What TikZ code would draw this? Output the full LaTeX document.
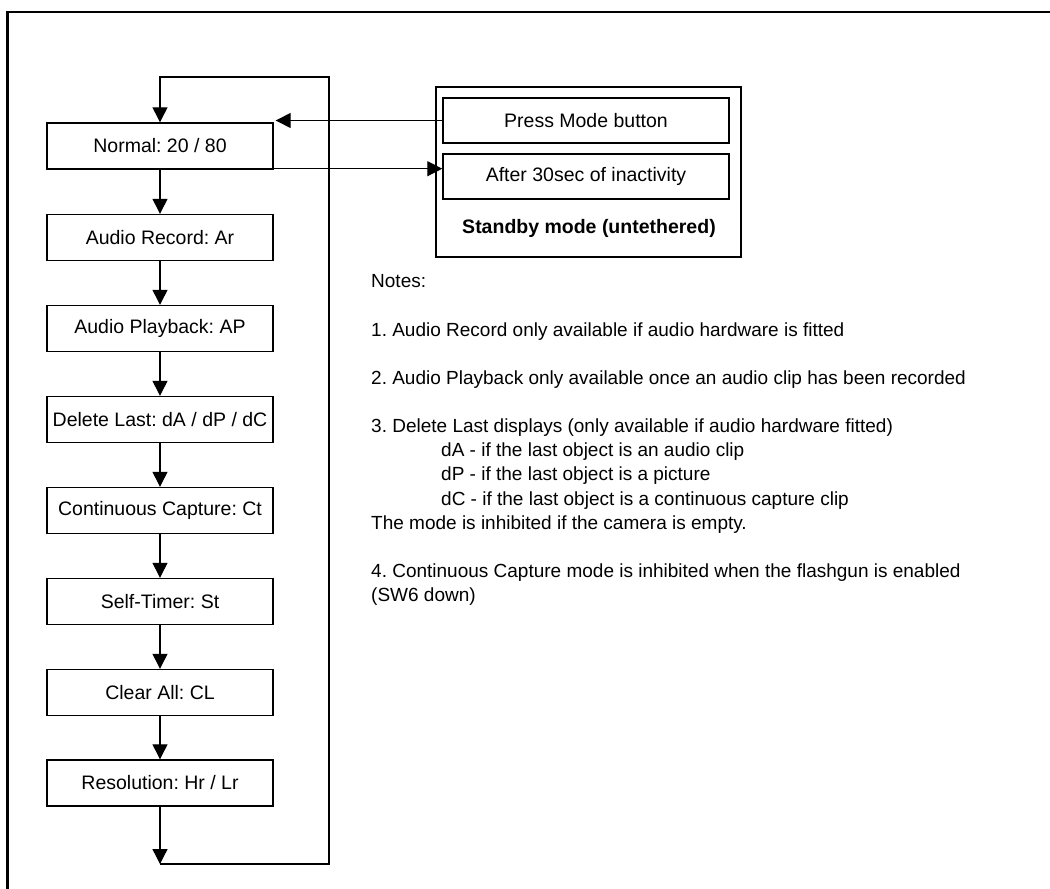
\documentclass[tikz,border=0pt]{standalone}
\usepackage{fontspec}
\setmainfont{Liberation Sans}
\usetikzlibrary{arrows.meta,calc}
\frenchspacing
\tikzset{
  fnt/.style={font=\fontsize{19.5}{24.15}\selectfont},
  nfnt/.style={font=\fontsize{19}{24.15}\selectfont},
  mbox/.style={draw, line width=1.4pt, minimum width=226pt, minimum height=46pt, inner sep=2pt, fnt},
  sbox/.style={draw, line width=1.4pt, minimum width=286pt, minimum height=45pt, inner sep=2pt, fnt},
  arr/.style={line width=1.3pt, -{Triangle[length=15pt,width=15pt]}},
}
\begin{document}
\begin{tikzpicture}[x=1pt,y=-1pt]
\useasboundingbox (0,0) rectangle (1050,889);
% outer frame
\draw[line width=2.3pt] (1050,12) -- (7.5,12) -- (7.5,889);
% mode chain
\node[mbox] (normal) at (160,146) {Normal: 20 / 80};
\node[mbox] (arec) at (160,237.5) {Audio Record: Ar};
\node[mbox] (aplay) at (160,328.5) {Audio Playback: AP};
\node[mbox] (dlast) at (160,419.5) {Delete Last: dA / dP / dC};
\node[mbox] (ccap) at (160,510.5) {Continuous Capture: Ct};
\node[mbox] (stimer) at (160,601.5) {Self-Timer: St};
\node[mbox] (clear) at (160,692.5) {Clear All: CL};
\node[mbox] (res) at (160,783) {Resolution: Hr / Lr};
\draw[arr] (normal) -- (arec);
\draw[arr] (arec) -- (aplay);
\draw[arr] (aplay) -- (dlast);
\draw[arr] (dlast) -- (ccap);
\draw[arr] (ccap) -- (stimer);
\draw[arr] (stimer) -- (clear);
\draw[arr] (clear) -- (res);
% loop back
\coordinate (loopb) at (160,864);
\coordinate (loopt) at (329,77);
\draw[arr] (res.south) -- (loopb);
\draw[arr] (loopb) -| (loopt) -| (normal.north);
% standby
\node[draw, line width=1.4pt, minimum width=305pt, minimum height=170pt, inner sep=0pt] (standby) at (588.5,172) {};
\node[sbox] (press) at (586,120.5) {Press Mode button};
\node[sbox] (after) at (586,176.5) {After 30sec of inactivity};
\node[font=\fontsize{19.5}{24.15}\selectfont\bfseries] (slabel) at (589,228) {Standby mode (untethered)};
\draw[arr] (press.west) -- ($(press.west -| normal.east)+(2,0)$);
\draw[arr] ([yshift=1pt]normal.south east) -- ([yshift=1pt]normal.south east -| after.west);
% notes
\node[nfnt, anchor=north west, align=left, inner sep=0pt] (notes) at (371,274.5) {Notes:\\
\mbox{}\\
1. Audio Record only available if audio hardware is fitted\\
\mbox{}\\
2. Audio Playback only available once an audio clip has been recorded\\
\mbox{}\\
3. Delete Last displays (only available if audio hardware fitted)\\
\hspace*{70pt}dA - if the last object is an audio clip\\
\hspace*{70pt}dP - if the last object is a picture\\
\hspace*{70pt}dC - if the last object is a continuous capture clip\\
The mode is inhibited if the camera is empty.\\
\mbox{}\\
4. Continuous Capture mode is inhibited when the flashgun is enabled\\
(SW6 down)};
\end{tikzpicture}
\end{document}
